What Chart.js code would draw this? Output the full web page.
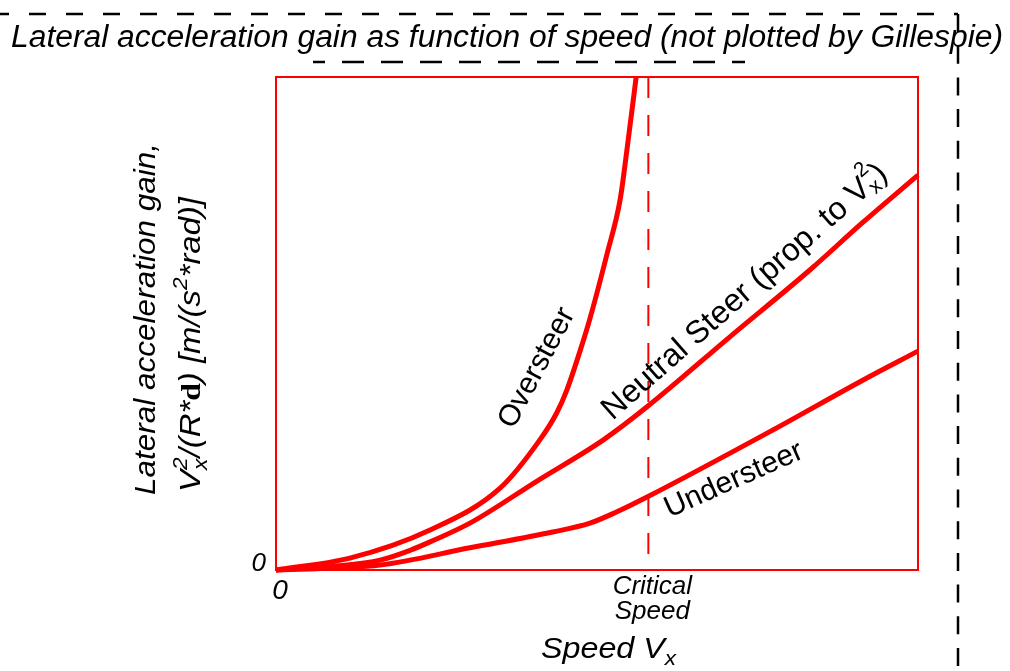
<!DOCTYPE html>
<html><head><meta charset="utf-8">
<script src="https://cdn.jsdelivr.net/npm/chart.js@4"></script>
<style>html,body{margin:0;padding:0;background:#fff;overflow:hidden}#wrap{width:1010px;height:671px;position:relative}</style>
</head><body><div id="wrap"><canvas id="c" width="1010" height="671"></canvas></div>
<script>
// ---- data (speed in % of axis range, gain in % of axis range) ----
const speedOversteer = [0, 11.5, 24.0, 34.9, 41.1, 43.7, 45.3, 47.4, 48.9, 51.6, 53.6, 54.7, 56.1];
const gainOversteer  = [0, 2.4, 8.1, 16.6, 26.4, 31.8, 36.5, 44.6, 51.0, 64.3, 75.1, 85.6, 100];
const speedNeutral = [0, 9.5, 16.2, 20.9, 24.0, 30.2, 40.6, 51.0, 57.8, 70.7, 83.2, 91.4, 100];
const gainNeutral  = [0, 0.8, 2.0, 4.0, 5.7, 9.5, 18.0, 26.4, 33.1, 47.3, 60.9, 70.5, 80.1];
const speedUndersteer = [0, 16.2, 30.2, 43.1, 48.9, 53.1, 57.8, 77.4, 91.4, 100];
const gainUndersteer  = [0, 1.0, 4.5, 7.7, 9.5, 11.8, 14.8, 28.4, 38.5, 44.4];
const criticalSpeed = 58;
const xTickValues = [0, criticalSpeed];
const xTickLabels = ['0', ['Critical', 'Speed']];
const yTickValues = [0];
const yTickLabels = ['0'];
const seriesNames = ['Oversteer', 'Neutral Steer', 'Understeer'];

const FAM = "'Liberation Sans', Arial, sans-serif";
const RED = '#ff0000';
const pts = (xs, ys) => xs.map((x, i) => ({x, y: ys[i]}));

function layoutRich(ctx, segs) {
  let x = 0, pend = 0; const items = [];
  for (const s of segs) {
    ctx.font = s.font; const w = ctx.measureText(s.text).width;
    items.push({s, x});
    if (s.hold) pend = Math.max(pend, w); else { x += Math.max(w, pend); pend = 0; }
  }
  return {items, width: x + pend};
}
function drawRich(ctx, segs, align, targetW) {
  const L = layoutRich(ctx, segs);
  const sx = targetW ? targetW / L.width : 1;
  ctx.save(); ctx.scale(sx, 1);
  const start = align === 'center' ? -L.width / 2 : 0;
  for (const it of L.items) { ctx.font = it.s.font; ctx.fillText(it.s.text, start + it.x, it.s.dy || 0); }
  ctx.restore();
}
function dashedLine(ctx, x1, y1, x2, y2, dash, off) {
  ctx.save(); ctx.strokeStyle = '#000'; ctx.lineWidth = 2.5; ctx.setLineDash(dash); ctx.lineDashOffset = off || 0;
  ctx.beginPath(); ctx.moveTo(x1, y1); ctx.lineTo(x2, y2); ctx.stroke(); ctx.restore();
}

const decor = {
  id: 'decor',
  beforeDatasetsDraw(chart) {
    const {ctx, chartArea: a} = chart;
    ctx.save(); ctx.strokeStyle = RED; ctx.lineWidth = 2;
    ctx.strokeRect(a.left, a.top, a.right - a.left, a.bottom - a.top); ctx.restore();
  },
  afterDraw(chart) {
    const {ctx} = chart;
    // dashed frame lines
    dashedLine(ctx, 0, 14, 958, 14, [17, 20], 8);
    dashedLine(ctx, 958, 14, 958, 671, [18, 13.7], 0);
    dashedLine(ctx, 313, 62, 745, 62, [22, 17], 10);
    ctx.save(); ctx.fillStyle = '#000'; ctx.textBaseline = 'alphabetic'; ctx.textAlign = 'left';
    // title
    ctx.save(); ctx.translate(11, 47);
    drawRich(ctx, [{text: 'Lateral acceleration gain as function of speed (not plotted by Gillespie)', font: `italic 31px ${FAM}`}], 'left', 992);
    ctx.restore();
    // y title
    ctx.save(); ctx.translate(155, 495); ctx.rotate(-Math.PI / 2);
    drawRich(ctx, [{text: 'Lateral acceleration gain,', font: `italic 29px ${FAM}`}], 'left', 352);
    ctx.restore();
    ctx.save(); ctx.translate(200, 492); ctx.rotate(-Math.PI / 2);
    drawRich(ctx, [
      {text: 'V', font: `italic 29px ${FAM}`},
      {text: 'x', font: `italic 20px ${FAM}`, dy: 7, hold: true},
      {text: '2', font: `italic 20px ${FAM}`, dy: -13},
      {text: '/(R*', font: `italic 29px ${FAM}`},
      {text: 'd', font: `bold 28px 'Liberation Serif', serif`},
      {text: ') [m/(s', font: `italic 29px ${FAM}`},
      {text: '2', font: `italic 20px ${FAM}`, dy: -13},
      {text: '*rad)]', font: `italic 29px ${FAM}`}
    ], 'left', 295);
    ctx.restore();
    // x title
    ctx.save(); ctx.translate(541, 658);
    drawRich(ctx, [
      {text: 'Speed V', font: `italic 30px ${FAM}`},
      {text: 'x', font: `italic 21px ${FAM}`, dy: 7}
    ], 'left', 135);
    ctx.restore();
    // curve labels
    ctx.textBaseline = 'middle';
    const lab = (x, y, deg, segs) => { ctx.save(); ctx.translate(x, y); ctx.rotate(deg * Math.PI / 180); drawRich(ctx, segs, 'center'); ctx.restore(); };
    lab(537, 368, -62, [{text: seriesNames[0], font: `30px ${FAM}`}]);
    lab(745, 292, -41.5, [
      {text: 'Neutral Steer (prop. to V', font: `32px ${FAM}`},
      {text: 'x', font: `21px ${FAM}`, dy: 8, hold: true},
      {text: '2', font: `21px ${FAM}`, dy: -14},
      {text: ')', font: `32px ${FAM}`}
    ]);
    lab(734, 480, -24, [{text: seriesNames[2], font: `30px ${FAM}`}]);
    ctx.restore();
  }
};

const lineDs = (label, xs, ys) => ({
  label, data: pts(xs, ys), showLine: true, borderColor: RED, backgroundColor: RED,
  borderWidth: 5, pointRadius: 0, cubicInterpolationMode: 'monotone', clip: 6,
  borderCapStyle: 'butt', borderJoinStyle: 'round'
});

new Chart(document.getElementById('c'), {
  type: 'scatter',
  data: {
    datasets: [
      lineDs(seriesNames[0], speedOversteer, gainOversteer),
      lineDs(seriesNames[1], speedNeutral, gainNeutral),
      lineDs(seriesNames[2], speedUndersteer, gainUndersteer),
      {label: 'Critical speed', data: [{x: criticalSpeed, y: 100}, {x: criticalSpeed, y: 0}], showLine: true,
       borderColor: RED, borderWidth: 2, borderDash: [21, 17], pointRadius: 0}
    ]
  },
  options: {
    responsive: false, animation: false, devicePixelRatio: 1,
    layout: {padding: {top: 77, right: 92, left: 0, bottom: 0}},
    plugins: {legend: {display: false}, tooltip: {enabled: false}, title: {display: false}},
    scales: {
      x: {
        type: 'linear', min: 0, max: 100, position: 'bottom',
        grid: {display: false, drawTicks: false}, border: {display: false},
        afterBuildTicks: s => { s.ticks = xTickValues.map(v => ({value: v})); },
        afterFit: s => { s.height = 101; },
        ticks: {
          color: '#000', padding: 4, labelOffset: 4, maxRotation: 0, autoSkip: false,
          callback: v => xTickLabels[xTickValues.indexOf(v)],
          font: c => c.index === 0 ? {family: FAM, size: 28, style: 'italic', lineHeight: 1.2}
                                   : {family: FAM, size: 26, style: 'italic', lineHeight: 0.97}
        }
      },
      y: {
        type: 'linear', min: 0, max: 100,
        grid: {display: false, drawTicks: false}, border: {display: false},
        afterBuildTicks: s => { s.ticks = yTickValues.map(v => ({value: v})); },
        afterFit: s => { s.width = 276; },
        ticks: {
          color: '#000', padding: 10, labelOffset: -6, autoSkip: false,
          callback: v => yTickLabels[yTickValues.indexOf(v)],
          font: {family: FAM, size: 26, style: 'italic'}
        }
      }
    }
  },
  plugins: [decor]
});
</script></body></html>
